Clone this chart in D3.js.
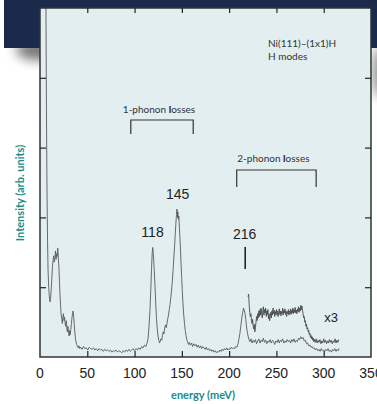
<!DOCTYPE html>
<html>
<head>
<meta charset="utf-8">
<script src="https://cdn.jsdelivr.net/npm/d3@7"></script>
<style>
  body { margin: 0; background: #fff; }
  svg { display: block; }
</style>
</head>
<body>
<div id="chart"></div>
<script>
const width = 377, height = 404;

// energy loss (meV) and intensity (arb. units) of the measured spectrum
const mainEnergy = [5.6,6.3,6.8,7.4,8.0,8.5,9.2,9.9,10.6,11.2,11.8,12.5,13.2,13.8,14.5,15.1,15.8,16.4,17.0,17.6,18.2,18.8,19.4,20.0,20.6,21.2,21.8,22.4,23.0,23.6,24.2,24.8,25.4,26.0,26.6,27.2,27.8,28.4,29.0,29.6,30.2,30.8,31.4,32.0,32.6,33.2,33.8,34.4,35.0,35.6,36.2,36.8,37.4,38.0,38.8,39.6,40.4,41.2,42.0,
  43.0,44.5,46.0,47.5,49.0,50.5,52.0,53.5,55.0,56.5,58.0,59.5,61.0,62.5,64.0,65.5,67.0,68.5,70.0,71.5,73.0,74.5,76.0,77.5,79.0,80.5,82.0,83.5,85.0,86.5,88.0,89.5,91.0,92.5,94.0,95.5,97.0,98.5,100.0,101.5,103.0,104.5,106.0,107.5,109.0,110.5,112.0,113.2,
  114.2,115.2,116.3,117.2,117.9,118.6,119.2,119.7,120.2,120.9,121.6,122.4,123.2,124.0,124.8,125.6,126.4,127.2,127.9,128.7,129.5,130.3,131.1,131.9,132.7,133.5,134.3,135.1,135.9,136.7,137.5,138.3,139.1,139.9,140.7,141.5,142.3,143.0,143.7,144.3,144.8,145.3,145.8,146.3,146.8,147.4,148.0,148.6,149.2,149.8,150.5,151.2,152.0,152.8,153.6,154.4,155.2,156.0,157.0,158.0,159.0,160.2,161.4,162.6,163.8,165.0,166.2,167.4,168.6,169.8,171.0,172.2,173.4,174.6,175.8,177.0,178.2,179.4,180.6,181.8,183.0,184.2,185.4,186.6,187.8,189.0,190.2,191.4,192.6,193.8,195.0,196.2,197.4,198.6,199.8,201.0,202.2,203.4,204.6,205.8,207.0,208.2,209.4,
  210.4,211.4,212.4,213.4,214.3,215.2,216.0,216.8,217.6,218.4,219.2,220.0,221.0,222.0,223.0,224.2,225.4,226.6,227.8,229.0,230.2,231.4,232.6,233.8,235.0,236.2,237.4,238.6,239.8,241.0,242.2,243.4,244.6,245.8,247.0,248.2,249.4,250.6,251.8,253.0,254.2,255.4,256.6,257.8,259.0,260.2,261.4,262.6,263.8,265.0,266.2,267.4,268.6,269.8,271.0,272.2,273.4,274.6,275.8,277.0,278.2,279.4,280.6,281.8,283.0,284.2,285.4,286.6,287.8,289.0,290.2,291.4,292.6,293.8,295.0,296.2,297.4,298.6,299.8,301.0,302.2,303.4,304.6,305.8,307.0,308.2,309.4,310.6,311.8,313.0,314.2,315.4,316.2];
const mainIntensity = [6.0,5.0,3.6,2.4,1.65,1.25,1.0,0.86,0.79,0.84,0.95,1.12,1.3,1.38,1.45,1.36,1.42,1.52,1.40,1.48,1.44,1.56,1.42,1.28,1.08,0.88,0.72,0.60,0.55,0.48,0.58,0.62,0.52,0.57,0.48,0.44,0.52,0.40,0.36,0.44,0.34,0.30,0.38,0.32,0.40,0.48,0.56,0.62,0.66,0.58,0.46,0.36,0.28,0.22,0.18,0.15,0.13,0.16,0.12,
  0.14,0.11,0.15,0.12,0.13,0.10,0.14,0.12,0.11,0.13,0.10,0.12,0.09,0.12,0.10,0.11,0.08,0.11,0.09,0.10,0.08,0.10,0.07,0.09,0.08,0.10,0.07,0.09,0.08,0.06,0.09,0.07,0.10,0.08,0.11,0.08,0.10,0.12,0.09,0.12,0.10,0.13,0.11,0.15,0.13,0.17,0.15,0.20,
  0.26,0.42,0.68,0.98,1.25,1.48,1.57,1.50,1.40,1.22,1.02,0.76,0.54,0.40,0.30,0.24,0.20,0.23,0.26,0.24,0.31,0.36,0.33,0.42,0.46,0.42,0.48,0.55,0.60,0.68,0.75,0.85,0.96,1.08,1.24,1.42,1.58,1.76,1.92,2.04,2.12,2.00,2.08,1.97,2.02,1.86,1.70,1.52,1.32,1.14,0.94,0.76,0.60,0.48,0.38,0.31,0.25,0.22,0.18,0.21,0.17,0.20,0.15,0.19,0.16,0.18,0.14,0.17,0.13,0.16,0.12,0.15,0.13,0.11,0.14,0.10,0.12,0.09,0.11,0.08,0.10,0.07,0.09,0.06,0.08,0.07,0.10,0.08,0.11,0.09,0.12,0.10,0.13,0.10,0.12,0.11,0.14,0.12,0.13,0.12,0.15,0.14,0.19,
  0.26,0.34,0.45,0.56,0.64,0.70,0.67,0.62,0.54,0.43,0.36,0.30,0.25,0.22,0.26,0.20,0.24,0.21,0.25,0.19,0.23,0.26,0.20,0.24,0.22,0.27,0.21,0.24,0.19,0.23,0.21,0.25,0.20,0.24,0.22,0.18,0.23,0.21,0.25,0.20,0.24,0.22,0.26,0.20,0.23,0.21,0.25,0.22,0.24,0.20,0.25,0.22,0.26,0.21,0.24,0.22,0.27,0.25,0.29,0.26,0.28,0.23,0.24,0.19,0.20,0.16,0.17,0.14,0.15,0.12,0.13,0.10,0.12,0.09,0.11,0.08,0.12,0.09,0.10,0.08,0.11,0.09,0.12,0.08,0.10,0.07,0.11,0.09,0.12,0.08,0.11,0.09,0.12];

// the same 2-phonon region magnified three times
const x3Energy = [220.0,220.6,221.2,221.8,222.4,223.0,223.6,224.2,224.8,225.4,226.0,226.6,227.2,227.8,228.4,229.0,229.6,230.2,230.8,231.4,232.0,232.6,233.2,233.8,234.4,235.0,235.6,236.2,236.8,237.4,238.0,238.6,239.2,239.8,240.4,241.0,241.6,242.2,242.8,243.4,244.0,244.6,245.2,245.8,246.4,247.0,247.6,248.2,248.8,249.4,250.0,250.6,251.2,251.8,252.4,253.0,253.6,254.2,254.8,255.4,256.0,256.6,257.2,257.8,258.4,259.0,259.6,260.2,260.8,261.4,262.0,262.6,263.2,263.8,264.4,265.0,265.6,266.2,266.8,267.4,268.0,268.6,269.2,269.8,270.4,271.0,271.6,272.2,272.8,273.4,274.0,274.6,275.2,275.8,276.4,277.0,277.6,278.2,278.8,279.4,280.0,280.6,281.2,281.8,282.4,283.0,283.6,284.2,284.8,285.4,286.0,286.6,287.2,287.8,288.4,289.0,289.6,290.2,291.0,292.0,293.0,294.0,295.0,296.0,297.0,298.0,299.0,300.0,301.0,302.0,303.0,304.0,305.0,306.0,307.0,308.0,309.0,310.0,311.0,312.0,313.0,314.0,315.0,316.0];
const x3Intensity = [0.86,0.90,0.74,0.64,0.58,0.62,0.52,0.48,0.54,0.44,0.40,0.47,0.36,0.42,0.50,0.58,0.52,0.62,0.56,0.66,0.58,0.68,0.60,0.70,0.62,0.56,0.66,0.72,0.60,0.68,0.63,0.70,0.58,0.66,0.61,0.68,0.55,0.62,0.52,0.58,0.64,0.56,0.66,0.60,0.70,0.62,0.67,0.58,0.65,0.61,0.68,0.60,0.66,0.58,0.64,0.69,0.61,0.66,0.59,0.65,0.62,0.70,0.60,0.67,0.63,0.69,0.61,0.66,0.58,0.65,0.62,0.68,0.60,0.66,0.62,0.69,0.61,0.67,0.63,0.70,0.62,0.68,0.64,0.71,0.63,0.67,0.62,0.69,0.65,0.72,0.64,0.70,0.66,0.74,0.68,0.73,0.66,0.62,0.56,0.58,0.50,0.52,0.44,0.47,0.40,0.42,0.36,0.38,0.32,0.34,0.28,0.31,0.26,0.29,0.24,0.27,0.22,0.25,0.21,0.26,0.20,0.24,0.21,0.25,0.19,0.23,0.20,0.26,0.21,0.24,0.19,0.23,0.20,0.25,0.21,0.24,0.19,0.23,0.21,0.26,0.20,0.24,0.21,0.25];

const xTicks = [0, 50, 100, 150, 200, 250, 300, 350];
const yTicks = [1, 2, 3, 4];
const peakLabels = ["118", "145", "216"];
const peakEnergy = [119.5, 146, 217];
const peakLabelLevel = [1.72, 2.26, 1.69];

const margin = {top: 8, right: 6, bottom: 47, left: 40};
const x = d3.scaleLinear().domain([0, 350]).range([margin.left, width - margin.right]);
const y = d3.scaleLinear().domain([0, 5]).range([height - margin.bottom, margin.top]);

const svg = d3.select("#chart").append("svg")
  .attr("width", width).attr("height", height);

const defs = svg.append("defs");
defs.append("filter").attr("id", "blur")
  .attr("x", "-100%").attr("y", "-100%").attr("width", "300%").attr("height", "300%")
  .append("feGaussianBlur").attr("stdDeviation", 6);
defs.append("clipPath").attr("id", "plotclip")
  .append("rect")
  .attr("x", x(0)).attr("y", y(5))
  .attr("width", x(350) - x(0)).attr("height", y(0) - y(5));

// backdrop: navy banner with soft shadows
svg.append("ellipse").attr("cx", 38).attr("cy", 50).attr("rx", 22).attr("ry", 10)
  .attr("fill", "#000").attr("opacity", 0.55).attr("filter", "url(#blur)");
svg.append("ellipse").attr("cx", 380).attr("cy", 72).attr("rx", 7).attr("ry", 26)
  .attr("fill", "#000").attr("opacity", 0.45).attr("filter", "url(#blur)");
svg.append("rect").attr("x", 4).attr("y", 0).attr("width", width - 4).attr("height", 48)
  .attr("fill", "#1b2a4a");

// plot area
svg.append("rect")
  .attr("x", x(0)).attr("y", y(5))
  .attr("width", x(350) - x(0)).attr("height", y(0) - y(5))
  .attr("fill", "#e2eef0");

const line = d3.line().x(d => x(d[0])).y(d => y(d[1]));
const mainData = mainEnergy.map((e, i) => [e, mainIntensity[i]]);
const x3Data = x3Energy.map((e, i) => [e, x3Intensity[i]]);

const curves = svg.append("g").attr("clip-path", "url(#plotclip)");
curves.append("path").datum(mainData)
  .attr("d", line).attr("fill", "none")
  .attr("stroke", "#5a5a5a").attr("stroke-width", 0.9);
curves.append("path").datum(x3Data)
  .attr("d", line).attr("fill", "none")
  .attr("stroke", "#4a4a4a").attr("stroke-width", 0.9);

// frame
svg.append("rect")
  .attr("x", x(0)).attr("y", y(5))
  .attr("width", x(350) - x(0)).attr("height", y(0) - y(5))
  .attr("fill", "none").attr("stroke", "#333").attr("stroke-width", 1.5);

// ticks pointing inwards on all four sides
const innerX = xTicks.filter(d => d > 0 && d < 350);
svg.append("g").attr("transform", `translate(0,${y(0)})`)
  .call(d3.axisTop(x).tickValues(innerX).tickSize(6).tickFormat(""))
  .call(g => g.select(".domain").remove())
  .selectAll("line").attr("stroke", "#222").attr("stroke-width", 1.2);
svg.append("g").attr("transform", `translate(0,${y(5)})`)
  .call(d3.axisBottom(x).tickValues(innerX).tickSize(5).tickFormat(""))
  .call(g => g.select(".domain").remove())
  .selectAll("line").attr("stroke", "#222").attr("stroke-width", 1.2);
svg.append("g").attr("transform", `translate(${x(0)},0)`)
  .call(d3.axisRight(y).tickValues(yTicks).tickSize(6).tickFormat(""))
  .call(g => g.select(".domain").remove())
  .selectAll("line").attr("stroke", "#222").attr("stroke-width", 1.2);
svg.append("g").attr("transform", `translate(${x(350)},0)`)
  .call(d3.axisLeft(y).tickValues(yTicks).tickSize(6).tickFormat(""))
  .call(g => g.select(".domain").remove())
  .selectAll("line").attr("stroke", "#222").attr("stroke-width", 1.2);

// x tick labels
svg.append("g").selectAll("text").data(xTicks).join("text")
  .attr("x", d => x(d)).attr("y", 378)
  .attr("text-anchor", "middle")
  .attr("font-family", "Liberation Sans, Arial, sans-serif")
  .attr("font-size", 14).attr("fill", "#222")
  .text(d => d);

// axis titles
svg.append("text")
  .attr("x", 203).attr("y", 399).attr("text-anchor", "middle")
  .attr("font-family", "Lato, sans-serif").attr("font-weight", "bold")
  .attr("font-size", 11).attr("fill", "#1b8c8c")
  .text("energy (meV)");
svg.append("text")
  .attr("transform", "translate(24,193) rotate(-90)").attr("text-anchor", "middle")
  .attr("font-family", "Lato, sans-serif").attr("font-weight", "bold")
  .attr("font-size", 11).attr("fill", "#1b8c8c")
  .text("Intensity (arb. units)");

// sample annotation
const note = svg.append("text")
  .attr("font-family", "Lato, sans-serif").attr("font-size", 10).attr("fill", "#333");
note.append("tspan").attr("x", 268).attr("y", 47).text("Ni(111)–(1x1)H");
note.append("tspan").attr("x", 268).attr("y", 60).text("H modes");

// bracket annotations
function bracket(e0, e1, top, bottom, label, labelY) {
  svg.append("path")
    .attr("d", `M${x(e0)},${bottom}V${top}H${x(e1)}V${bottom}`)
    .attr("fill", "none").attr("stroke", "#333").attr("stroke-width", 1.2);
  const t = svg.append("text")
    .attr("x", (x(e0) + x(e1)) / 2 - 3).attr("y", labelY).attr("text-anchor", "middle")
    .attr("font-family", "Lato, sans-serif").attr("font-size", 10).attr("fill", "#333");
  t.append("tspan").text(label + "-phonon ");
  t.append("tspan").attr("font-weight", "900").text("l");
  t.append("tspan").text("osses");
}
bracket(96, 162, 120, 134, "1", 113);
bracket(208, 292, 170, 187, "2", 162);

// peak labels
svg.append("g").selectAll("text").data(peakLabels).join("text")
  .attr("x", (d, i) => x(peakEnergy[i]) - 0.5)
  .attr("y", (d, i) => y(peakLabelLevel[i]))
  .attr("text-anchor", "middle")
  .attr("font-family", "Liberation Sans, Arial, sans-serif")
  .attr("font-size", 14).attr("fill", "#222")
  .text(d => d);
svg.append("line")
  .attr("x1", x(217)).attr("x2", x(217)).attr("y1", 247).attr("y2", 269)
  .attr("stroke", "#222").attr("stroke-width", 1.6);

svg.append("text")
  .attr("x", 331).attr("y", 322).attr("text-anchor", "middle")
  .attr("font-family", "Liberation Sans, Arial, sans-serif")
  .attr("font-size", 13).attr("fill", "#222")
  .text("x3");
</script>
</body>
</html>
